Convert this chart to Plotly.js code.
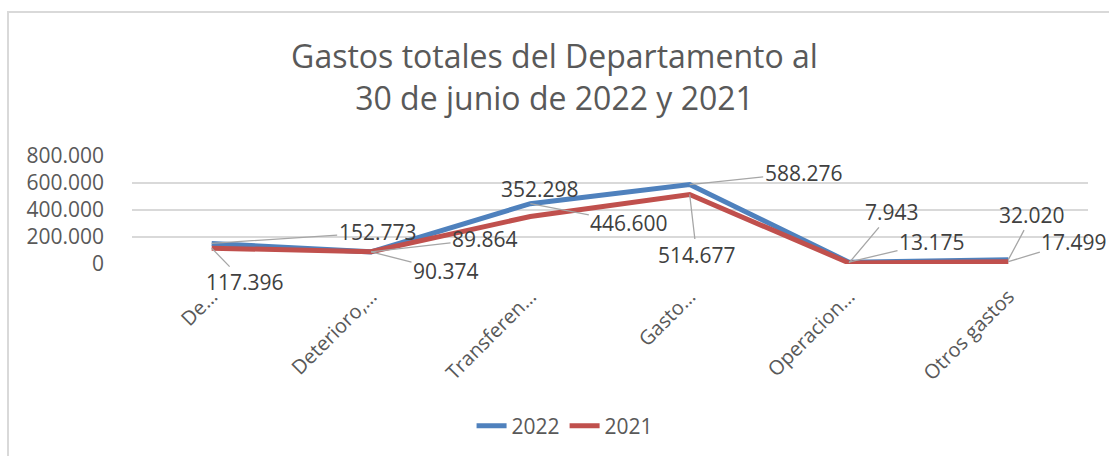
<!DOCTYPE html>
<html>
<head>
<meta charset="utf-8">
<script src="https://cdn.plot.ly/plotly-3.0.1.min.js"></script>
<style>
  html, body { margin: 0; padding: 0; background: #fff; }
  #wrap { position: relative; width: 1109px; height: 456px; }
  #chart { width: 1109px; height: 456px; }
  #frame { position: absolute; left: 7px; top: 11px; right: 0; bottom: 0;
           border-left: 2px solid #d9d9d9; border-top: 2px solid #d9d9d9; pointer-events: none; }
</style>
</head>
<body>
<div id="wrap">
  <div id="chart"></div>
  <div id="frame"></div>
</div>
<script>
// ---- data ----
const categories = ["De\u2026", "Deterioro,\u2026", "Transferen\u2026", "Gasto\u2026", "Operacion\u2026", "Otros gastos"];
const seriesNames = ["2022", "2021"];
const values2022 = [152773, 89864, 446600, 588276, 13175, 32020];
const values2021 = [117396, 90374, 352298, 514677, 7943, 17499];
const yTicks = [0, 200000, 400000, 600000, 800000];

// ---- label placement (pixel offsets of each data label from its point) ----
const offsets2022 = [[166, -11], [114, -13], [99, 19], [114, -12], [83, -20], [24, -45]];
const offsets2021 = [[33, 34], [75, 19], [10, -27], [7, 60], [43, -51], [66, -20]];
const leader2022 = [true, true, true, true, true, true];
const leader2021 = [true, true, false, true, true, true];

const colors = ["#4f81bd", "#c0504d"];
const textColor = "#595959";
const fontFam = "'Open Sans', 'Noto Sans', sans-serif";

function fmt(v) {
  return String(Math.round(v)).replace(/\B(?=(\d{3})+(?!\d))/g, ".");
}

const traces = [values2022, values2021].map((vals, i) => ({
  type: "scatter",
  mode: "lines",
  name: seriesNames[i],
  x: categories,
  y: vals,
  line: { color: colors[i], width: 5 },
  hoverinfo: "skip"
}));

const annotations = [];
[[values2022, offsets2022, leader2022], [values2021, offsets2021, leader2021]].forEach(([vals, offs, leads]) => {
  vals.forEach((v, j) => {
    annotations.push({
      x: categories[j], y: v, xref: "x", yref: "y",
      text: fmt(v),
      showarrow: true,
      arrowhead: 0,
      arrowwidth: 1.3,
      arrowcolor: leads[j] ? "#a6a6a6" : "rgba(0,0,0,0)",
      standoff: 0,
      ax: offs[j][0], ay: offs[j][1],
      font: { family: fontFam, size: 21, color: "#404040" }
    });
  });
});

const layout = {
  width: 1109, height: 456,
  margin: { l: 132, r: 21, t: 156, b: 192, autoexpand: false },
  paper_bgcolor: "#ffffff",
  plot_bgcolor: "#ffffff",
  separators: ",.",
  title: {
    text: "Gastos totales del Departamento al<br>30 de junio de 2022 y 2021",
    font: { family: fontFam, size: 32, color: textColor },
    x: 0.5, xref: "container", xanchor: "center",
    y: 0.85, yref: "container", yanchor: "middle"
  },
  xaxis: {
    type: "category",
    range: [-0.5, categories.length - 0.5],
    showgrid: false, zeroline: false, showline: false, ticks: "",
    tickangle: -45,
    ticklabelstandoff: 16,
    tickfont: { family: fontFam, size: 20, color: textColor },
    fixedrange: true
  },
  yaxis: {
    range: [0, 800000],
    tickvals: yTicks,
    tickformat: ",d",
    showgrid: true, gridcolor: "#d9d9d9", gridwidth: 1.5,
    zeroline: false, showline: false, ticks: "",
    ticklabelstandoff: 27,
    tickfont: { family: fontFam, size: 21, color: textColor },
    fixedrange: true
  },
  showlegend: true,
  legend: {
    orientation: "h",
    x: 0.453, xanchor: "center",
    y: -1.5, yanchor: "middle",
    font: { family: fontFam, size: 21, color: textColor },
    traceorder: "normal"
  },
  annotations: annotations
};

Plotly.newPlot("chart", traces, layout, { displayModeBar: false, staticPlot: true });
</script>
</body>
</html>
